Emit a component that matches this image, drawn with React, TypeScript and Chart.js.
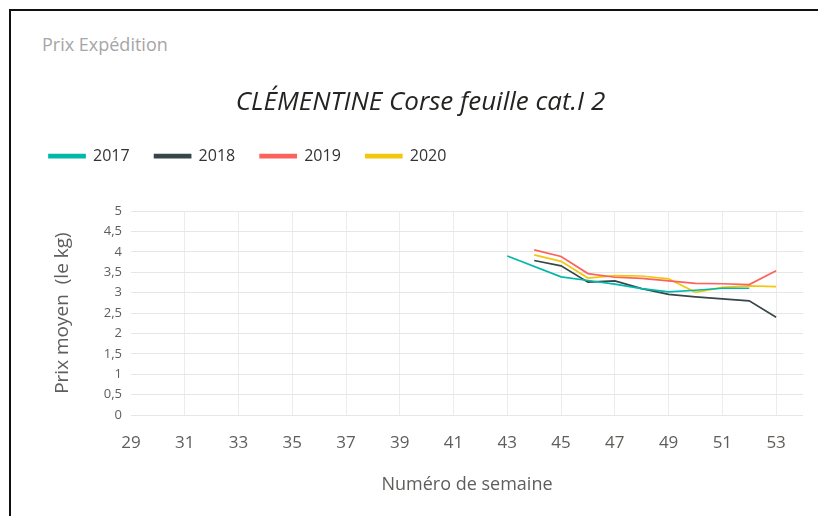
import React, { useEffect, useRef } from "react";
import { Chart, registerables } from "chart.js";

Chart.register(...registerables);

const seriesLabels = ["2017", "2018", "2019", "2020"];
const seriesColors = ["#01B8AA", "#374649", "#FD625E", "#F2C80F"];

const weeks2017 = [43, 45, 46, 47, 48, 49, 50, 51, 52];
const values2017 = [3.9, 3.39, 3.3, 3.21, 3.1, 3.02, 3.06, 3.11, 3.11];

const weeks2018 = [44, 45, 46, 47, 48, 49, 50, 51, 52, 53];
const values2018 = [3.79, 3.66, 3.26, 3.29, 3.1, 2.96, 2.9, 2.85, 2.8, 2.4];

const weeks2019 = [44, 45, 46, 47, 48, 49, 50, 51, 52, 53];
const values2019 = [4.05, 3.89, 3.47, 3.38, 3.35, 3.29, 3.23, 3.22, 3.2, 3.54];

const weeks2020 = [44, 45, 46, 47, 48, 49, 50, 51, 52, 53];
const values2020 = [3.93, 3.77, 3.36, 3.42, 3.41, 3.34, 3.01, 3.13, 3.17, 3.15];

const xTickValues = [29, 31, 33, 35, 37, 39, 41, 43, 45, 47, 49, 51, 53];

const FONT = "'Open Sans', 'Noto Sans', sans-serif";

const layoutTweaks = {
  id: "layoutTweaks",
  beforeInit(chart: any) {
    const legend = chart.legend;
    if (legend) {
      const orig = legend.fit;
      legend.fit = function () {
        orig.call(this);
        this.height += 37;
      };
    }
    const tb = chart.titleBlock;
    if (tb) {
      const od = tb.draw;
      tb.draw = function () {
        const ctx = this.ctx;
        ctx.save();
        ctx.translate(7, 0);
        od.call(this);
        ctx.restore();
      };
    }
  },
};

export default function App() {
  const ref = useRef<HTMLCanvasElement | null>(null);

  useEffect(() => {
    document.body.style.overflow = "hidden";
    document.documentElement.style.overflow = "hidden";
    if (!ref.current) return;
    const pairs = [
      [weeks2017, values2017],
      [weeks2018, values2018],
      [weeks2019, values2019],
      [weeks2020, values2020],
    ];
    const chart = new Chart(ref.current, {
      type: "line",
      data: {
        datasets: pairs.map(([w, v], i) => ({
          label: seriesLabels[i],
          data: (w as number[]).map((x, j) => ({ x, y: (v as number[])[j] })),
          borderColor: seriesColors[i],
          backgroundColor: seriesColors[i],
          borderWidth: 1.7,
          pointRadius: 0,
          tension: 0,
        })),
      },
      plugins: [layoutTweaks],
      options: {
        animation: false,
        responsive: true,
        maintainAspectRatio: false,
        layout: { padding: { left: 13, right: 15, top: 0, bottom: 0 } },
        plugins: {
          title: {
            display: true,
            text: "CLÉMENTINE Corse feuille cat.I 2",
            color: "#252423",
            font: { family: FONT, size: 26, style: "italic", weight: "normal", lineHeight: 1.2 },
            padding: { top: 76, bottom: 5 },
          },
          legend: {
            display: true,
            position: "top",
            align: "start",
            labels: {
              boxWidth: 36,
              boxHeight: 3,
              padding: 25,
              color: "#333333",
              font: { family: FONT, size: 16 },
            },
          },
          tooltip: { enabled: false },
        },
        scales: {
          x: {
            type: "linear",
            min: 29,
            max: 54,
            afterBuildTicks: (scale: any) => {
              scale.ticks = xTickValues.map((v) => ({ value: v }));
            },
            afterFit: (scale: any) => {
              scale.height = 101;
            },
            border: { display: false },
            grid: {
              drawTicks: false,
              color: (ctx: any) => (ctx.index === 0 ? "rgba(0,0,0,0)" : "#ececec"),
              lineWidth: 1,
            },
            ticks: {
              autoSkip: false,
              maxRotation: 0,
              padding: 18,
              color: "#605E5C",
              font: { family: FONT, size: 17 },
              callback: (v: any) => String(v),
            },
            title: {
              display: true,
              text: "Numéro de semaine",
              color: "#605E5C",
              font: { family: FONT, size: 18, lineHeight: 1.2 },
              padding: { top: 0, bottom: 20 },
            },
          },
          y: {
            min: 0,
            max: 5,
            afterFit: (scale: any) => {
              scale.width = 107;
            },
            border: { display: false },
            grid: { drawTicks: false, color: "#e6e6e6", lineWidth: 1 },
            ticks: {
              stepSize: 0.5,
              padding: 9,
              color: "#605E5C",
              font: { family: FONT, size: 13 },
              callback: (v: any) => String(v).replace(".", ","),
            },
            title: {
              display: true,
              text: "Prix moyen  (le kg)",
              color: "#605E5C",
              font: { family: FONT, size: 19, lineHeight: 1.2 },
              padding: { top: 27, bottom: 0 },
            },
          },
        },
      },
    });
    return () => chart.destroy();
  }, []);

  return (
    <div
      style={{
        position: "fixed",
        left: 9,
        top: 9,
        width: 809,
        height: 507,
        boxSizing: "border-box",
        borderLeft: "2px solid #111",
        borderTop: "2px solid #111",
        background: "#fff",
        overflow: "hidden",
      }}
    >
      <div
        style={{
          position: "absolute",
          left: 31,
          top: 22,
          fontFamily: FONT,
          fontSize: 18,
          lineHeight: "22px",
          color: "#a6a6a6",
        }}
      >
        Prix Expédition
      </div>
      <div style={{ position: "absolute", left: 0, top: 0, width: 807, height: 505 }}>
        <canvas ref={ref} />
      </div>
    </div>
  );
}
